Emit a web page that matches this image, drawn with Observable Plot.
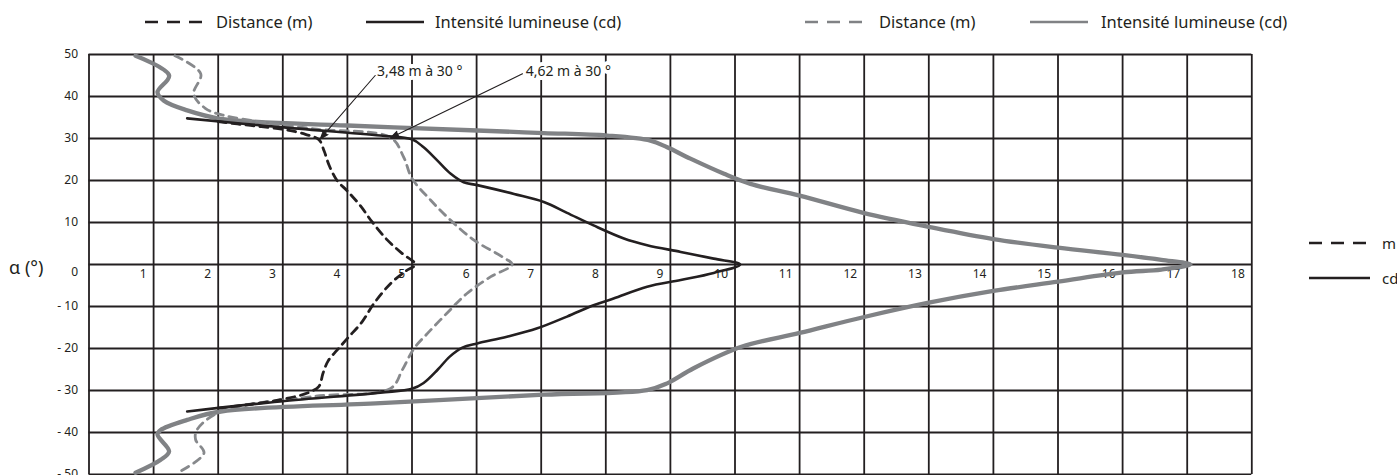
<!DOCTYPE html>
<html>
<head>
<meta charset="utf-8">
<script src="https://cdn.jsdelivr.net/npm/d3@7"></script>
<script src="https://cdn.jsdelivr.net/npm/@observablehq/plot@0.6"></script>
<style>
  html, body { margin: 0; padding: 0; background: #fff; }
  body { width: 1397px; height: 475px; position: relative; overflow: hidden; font-family: "Noto Sans", "Open Sans", sans-serif; color: #231f20; }
  #legend { position: absolute; left: 0; top: 0; width: 1397px; height: 40px; }
  .item { position: absolute; display: flex; align-items: center; font-size: 16.5px; white-space: nowrap; }
  .item svg { display: block; margin-right: 12px; }
  .side { font-size: 15px; }
  #chart { position: absolute; left: 0; top: 40px; }
  #chart svg { overflow: visible; }
</style>
</head>
<body>
<div id="legend"></div>
<div id="chart"></div>
<script>
// ---------- data (value, angle °) ----------
const xGridValues = [0,1,2,3,4,5,6,7,8,9,10,11,12,13,14,15,16,17,18];
const xTickLabels = [1,2,3,4,5,6,7,8,9,10,11,12,13,14,15,16,17,18];
const yGridValues = [-50,-40,-30,-20,-10,0,10,20,30,40,50];
const yTickLabels = [50,40,30,20,10,-10,-20,-30,-40,-50];

// Set 1 (black): distance (m)
const dist1Value = [2.0,2.5,3.0,3.35,3.56,3.64,3.72,3.84,4.0,4.2,4.38,4.62,4.85,5.05,4.9,4.67,4.41,4.23,4.0,3.84,3.7,3.62,3.56,3.38,2.96,2.45,2.0];
const dist1Angle = [34.0,33.1,32.2,31.0,29.7,27.0,23.5,20.0,17.5,14.0,10.2,5.8,2.6,0,-1.6,-4.5,-9.3,-13.6,-17.6,-20.4,-23.0,-26.0,-29.0,-30.6,-32.2,-33.4,-34.2];
// Set 1 (black): luminous intensity (cd)
const cd1Value = [1.52,2.96,4.51,5.0,5.18,5.39,5.6,5.8,6.01,6.58,7.04,7.40,7.81,8.28,8.64,9.16,9.67,10.08,9.67,9.16,8.64,8.12,7.81,7.40,6.94,6.47,6.01,5.78,5.58,5.4,5.18,5.0,4.51,2.96,1.52];
const cd1Angle = [34.8,32.7,30.7,29.8,27.9,24.8,21.6,19.6,18.9,16.8,14.9,12.3,9.3,6.2,4.6,3.0,1.4,0,-2.0,-3.7,-5.3,-8.1,-9.7,-12.4,-15.2,-17.2,-18.8,-19.8,-22.0,-25.0,-28.2,-29.6,-30.5,-32.6,-35.0];
// Set 2 (grey): distance (m)
const dist2Value = [1.33,1.73,1.62,1.8,2.09,3.48,4.67,4.87,5.0,5.29,5.6,5.96,6.4,6.55,6.22,5.85,5.54,5.24,5.03,4.85,4.67,3.48,2.04,1.67,1.65,1.78,1.37];
const dist2Angle = [49.7,45.4,40.6,37.2,35.5,32.3,30.2,25.6,20.5,15.3,10.5,5.8,1.8,0,-2.9,-6.9,-11.6,-16.4,-20.0,-25.1,-29.5,-31.4,-35.0,-39.4,-41.7,-44.9,-49.6];
// Set 2 (grey): luminous intensity (cd)
const cd2Value = [0.72,1.24,1.06,1.16,1.52,2.04,4.0,6.01,7.04,8.02,8.69,8.95,9.31,9.83,10.24,11.0,12.0,13.0,14.0,15.0,16.0,16.6,17.05,16.6,16.0,15.0,14.0,13.0,12.0,11.0,10.1,9.36,8.95,8.64,7.04,4.51,2.04,1.52,1.11,1.06,1.24,1.11,0.72];
const cd2Angle = [49.7,45.0,41.0,39.0,36.7,34.7,33.1,31.9,31.3,30.7,29.5,27.9,25.2,21.6,19.2,16.4,12.25,8.97,6.05,4.0,2.3,1.1,0,-1.2,-1.9,-4.1,-6.3,-9.1,-12.5,-16.3,-19.6,-24.7,-28.3,-29.9,-31.0,-33.0,-35.0,-37.0,-39.4,-40.5,-44.5,-46.5,-49.6];

// Annotations
const noteText = ["3,48 m à 30 °", "4,62 m à 30 °"];
const noteValue = [4.46, 6.76];
const noteAngle = [46.0, 46.0];
const arrowFromValue = [4.43, 6.71];
const arrowFromAngle = [45.0, 45.4];
const arrowToValue = [3.58, 4.67];
const arrowToAngle = [29.9, 30.2];

// Legends
const topLegendLabels = ["Distance (m)", "Intensité lumineuse (cd)", "Distance (m)", "Intensité lumineuse (cd)"];
const sideLegendLabels = ["m", "cd"];

// ---------- build ----------
const BLACK = "#231f20", GREY = "#808285";
const zip = (vs, as) => vs.map((v, i) => ({v, a: as[i]}));
const dist1 = zip(dist1Value, dist1Angle);
const cd1 = zip(cd1Value, cd1Angle);
const dist2 = zip(dist2Value, dist2Angle);
const cd2 = zip(cd2Value, cd2Angle);
const notes = noteText.map((t, i) => ({t, v: noteValue[i], a: noteAngle[i]}));
const arrows = arrowFromValue.map((v, i) => ({x1: v, y1: arrowFromAngle[i], x2: arrowToValue[i], y2: arrowToAngle[i]}));
const fmtY = d => d < 0 ? "- " + (-d) : String(d);

const plot = Plot.plot({
  width: 1397,
  height: 435,
  marginTop: 14,
  marginBottom: 1,
  marginLeft: 88.5,
  marginRight: 145.7,
  style: {fontFamily: "'Noto Sans', sans-serif", color: BLACK, background: "transparent"},
  x: {domain: [0, 18], axis: null},
  y: {domain: [-50, 50], axis: null},
  marks: [
    Plot.ruleX(xGridValues, {x: d => d, stroke: BLACK, strokeWidth: 1.8}),
    Plot.ruleY(yGridValues, {y: d => d, stroke: BLACK, strokeWidth: 1.8}),
    Plot.text(xTickLabels, {x: d => d, y: 0, text: d => String(d), textAnchor: "end", dx: -7, dy: 10, fontSize: 12, fill: BLACK}),
    Plot.text(yTickLabels, {x: 0, y: d => d, text: fmtY, textAnchor: "end", dx: -11, fontSize: 12, fill: BLACK}),
    Plot.text([0], {x: 0, y: d => d, text: fmtY, textAnchor: "end", dx: -11, dy: 8, fontSize: 12, fill: BLACK}),
    Plot.text(["α (°)"], {frameAnchor: "left", text: d => d, textAnchor: "start", dx: -80, dy: 4, fontSize: 18, fill: BLACK}),
    Plot.line(cd2, {x: "v", y: "a", stroke: GREY, strokeWidth: 4.3, curve: "catmull-rom"}),
    Plot.line(dist2, {x: "v", y: "a", stroke: "#87898c", strokeWidth: 2.8, strokeDasharray: "8,6", curve: "catmull-rom"}),
    Plot.line(cd1, {x: "v", y: "a", stroke: BLACK, strokeWidth: 2.6, curve: "catmull-rom"}),
    Plot.line(dist1, {x: "v", y: "a", stroke: BLACK, strokeWidth: 2.8, strokeDasharray: "8,6", curve: "catmull-rom"}),
    Plot.text(notes, {x: "v", y: "a", text: "t", textAnchor: "start", fontSize: 14, fill: BLACK, stroke: "white", strokeWidth: 8}),
    Plot.arrow(arrows, {x1: "x1", y1: "y1", x2: "x2", y2: "y2", stroke: BLACK, fill: BLACK, strokeWidth: 1.1, headLength: 12, headAngle: 40})
  ]
});
document.getElementById("chart").appendChild(plot);

// ---------- legends (HTML) ----------
function sample(color, dashed, width, gap) {
  const dash = dashed ? 'stroke-dasharray="13,9"' : "";
  return `<svg width="${width}" height="6" style="margin-right:${gap}px"><line x1="0" y1="3" x2="${width}" y2="3" stroke="${color}" stroke-width="2.6" ${dash}/></svg>`;
}
const legend = document.getElementById("legend");
const topStyles = [
  {left: 145, color: BLACK, dashed: true, gap: 13},
  {left: 366, color: BLACK, dashed: false, gap: 11},
  {left: 805, color: GREY, dashed: true, gap: 16},
  {left: 1030, color: GREY, dashed: false, gap: 13}
];
topLegendLabels.forEach((lab, i) => {
  const s = topStyles[i];
  const el = document.createElement("div");
  el.className = "item";
  el.style.left = s.left + "px";
  el.style.top = "10px";
  el.innerHTML = sample(s.color, s.dashed, 58, s.gap) + `<span>${lab}</span>`;
  legend.appendChild(el);
});
const sideTops = [233, 268];
sideLegendLabels.forEach((lab, i) => {
  const el = document.createElement("div");
  el.className = "item side";
  el.style.left = "1309px";
  el.style.top = sideTops[i] + "px";
  el.innerHTML = sample(BLACK, i === 0, 61, 12) + `<span>${lab}</span>`;
  document.body.appendChild(el);
});
</script>
</body>
</html>
